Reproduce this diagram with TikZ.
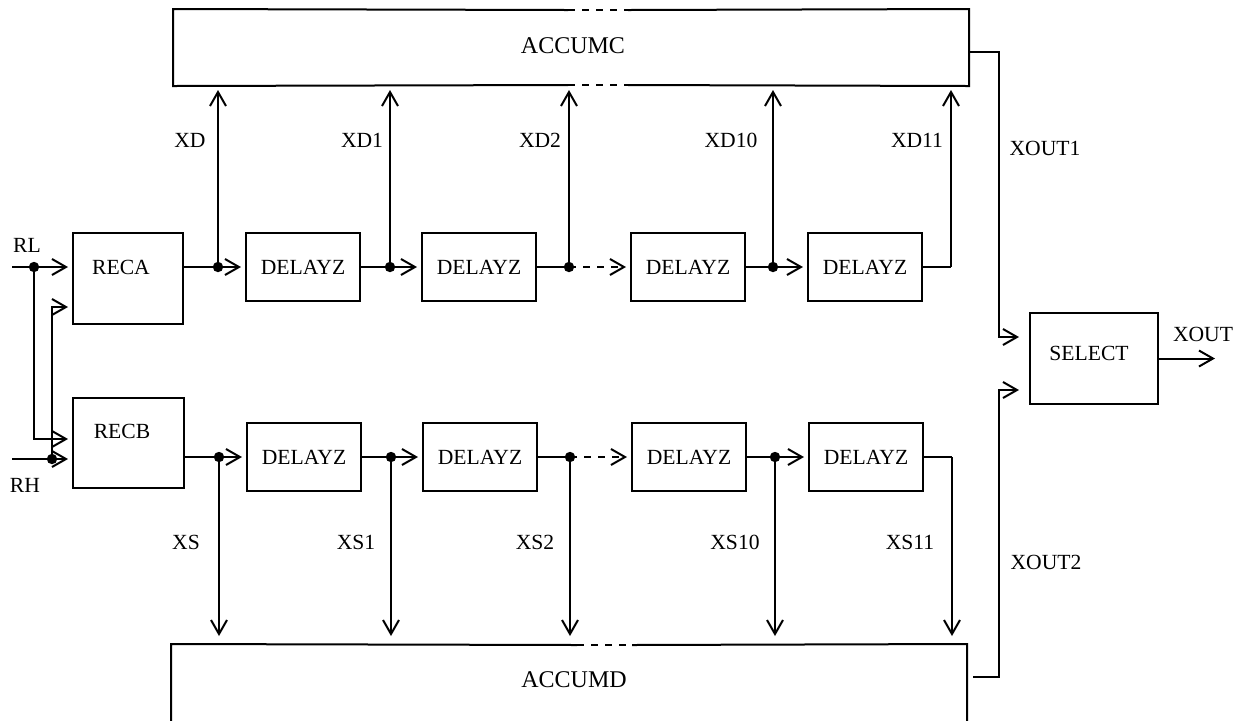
\documentclass[tikz,border=0pt]{standalone}
\usepackage{fontspec}
\setmainfont{Liberation Serif}
\usetikzlibrary{arrows.meta,calc}
\begin{document}
\begin{tikzpicture}[x=0.5pt,y=-0.5pt,
  line width=1pt,
  blk/.style={draw, inner sep=0pt},
  dly/.style={blk, minimum width=57pt, minimum height=34pt, font=\fontsize{10.8}{12}\selectfont},
  lbl/.style={font=\fontsize{10.8}{12}\selectfont, inner sep=0pt},
  big/.style={font=\fontsize{12}{14}\selectfont, inner sep=0pt},
  arr/.style={-{Straight Barb[length=7pt,width=8pt]}, shorten >=2pt},
  dsh/.style={dash pattern=on 3.5pt off 3.5pt}]
\clip (0,0) rectangle (1249,720);

% accumulators
\node[inner sep=0pt, minimum width=397pt, minimum height=37.5pt] (accC) at (571,47.5) {};
\node[big] (accCt) at (573,46) {ACCUMC};
\draw (568,10) -- (accC.north west) -- (accC.south west) -- (568,85);
\draw[dsh] (568,10) -- (628,10);
\draw[dsh] (568,85) -- (628,85);
\draw (628,10) -- (accC.north east) -- (accC.south east) -- (628,85);

\node[inner sep=0pt, minimum width=397pt, minimum height=45pt] (accD) at (569,690) {};
\node[big] (accDt) at (574,680) {ACCUMD};
\draw (accD.south west) -- (accD.north west) -- (577,645);
\draw[dsh] (577,645) -- (632,645);
\draw (632,645) -- (accD.north east) -- (accD.south east);

% receivers
\node[blk, minimum width=55pt, minimum height=45.5pt] (reca) at (128,278.5) {};
\node[lbl] (recat) at (121,267) {RECA};
\node[blk, minimum width=55.5pt, minimum height=45pt] (recb) at (128.5,443) {};
\node[lbl] (recbt) at (122,431) {RECB};

% delays
\node[dly] (a1) at (303,267) {DELAYZ};
\node[dly] (a2) at (479,267) {DELAYZ};
\node[dly] (a3) at (688,267) {DELAYZ};
\node[dly] (a4) at (865,267) {DELAYZ};
\node[dly] (b1) at (304,457) {DELAYZ};
\node[dly] (b2) at (480,457) {DELAYZ};
\node[dly] (b3) at (689,457) {DELAYZ};
\node[dly] (b4) at (866,457) {DELAYZ};

% select
\node[blk, minimum width=64pt, minimum height=45.5pt] (sel) at (1094,358.5) {};
\node[lbl] (selt) at (1089,353) {SELECT};

% junctions
\coordinate (rl) at (12,267);
\coordinate (rh) at (12,459);
\coordinate (jl) at (34,267);
\coordinate (jh) at (52,459);
\coordinate (ja0) at (218,267);
\coordinate (ja1) at (390,267);
\coordinate (ja2) at (569,267);
\coordinate (ja3) at (773,267);
\coordinate (ca4) at (951,267);
\coordinate (jb0) at (219,457);
\coordinate (jb1) at (391,457);
\coordinate (jb2) at (570,457);
\coordinate (jb3) at (775,457);
\coordinate (cb4) at (952,457);
\coordinate (o1) at (999,52);
\coordinate (o2) at (999,677);
\coordinate (xo) at (1215,357);

% inputs
\draw[arr] (rl) -- (reca.west |- rl);
\draw[arr] (jl) |- ([yshift=2pt]recb.west);
\draw[arr] (rh) -- (recb.west |- rh);
\draw[arr] (jh) |- ([yshift=-14.25pt]reca.west);

% top chain
\draw[arr] (reca.east |- ja0) -- (a1.west);
\draw[arr] (a1.east) -- (a2.west);
\draw (a2.east) -- (ja2);
\draw[arr, dsh] (ja2) -- (a3.west);
\draw[arr] (a3.east) -- (a4.west);
\draw (a4.east) -- (ca4);
\foreach \j in {ja0,ja1,ja2,ja3,ca4}
  \draw[arr] (\j) -- (\j |- accC.south);

% bottom chain
\draw[arr] (recb.east |- jb0) -- (b1.west);
\draw[arr] (b1.east) -- (b2.west);
\draw (b2.east) -- (jb2);
\draw[arr, dsh] (jb2) -- (b3.west);
\draw[arr] (b3.east) -- (b4.west);
\draw (b4.east) -- (cb4);
\foreach \j in {jb0,jb1,jb2,jb3,cb4}
  \draw[arr, shorten >=4pt] (\j) -- (\j |- accD.north);

% outputs
\draw[arr, shorten >=5pt] (accC.east |- o1) -- (o1) |- ([yshift=10.75pt]sel.west);
\draw[arr, shorten >=5pt, shorten <=3pt] (accD.east |- o2) -- (o2) |- ([yshift=-15.75pt]sel.west);
\draw[arr, shorten >=0pt] (sel.east) -- (xo |- sel.east);

% dots
\foreach \j in {jl,jh,ja0,ja1,ja2,ja3,jb0,jb1,jb2,jb3}
  \fill (\j) circle[radius=2.6pt];

% labels
\node[lbl] (lrl) at (27,245) {RL};
\node[lbl] (lrh) at (25,485) {RH};
\node[lbl] (lxd) at (190,140) {XD};
\node[lbl] (lxd1) at (362,140) {XD1};
\node[lbl] (lxd2) at (540,140) {XD2};
\node[lbl] (lxd10) at (731,140) {XD10};
\node[lbl] (lxd11) at (917,140) {XD11};
\node[lbl] (lxs) at (186,542) {XS};
\node[lbl] (lxs1) at (356,542) {XS1};
\node[lbl] (lxs2) at (535,542) {XS2};
\node[lbl] (lxs10) at (735,542) {XS10};
\node[lbl] (lxs11) at (910,542) {XS11};
\node[lbl] (lo1) at (1045,148) {XOUT1};
\node[lbl] (lo2) at (1046,562) {XOUT2};
\node[lbl] (lxo) at (1203,334) {XOUT};
\end{tikzpicture}
\end{document}
